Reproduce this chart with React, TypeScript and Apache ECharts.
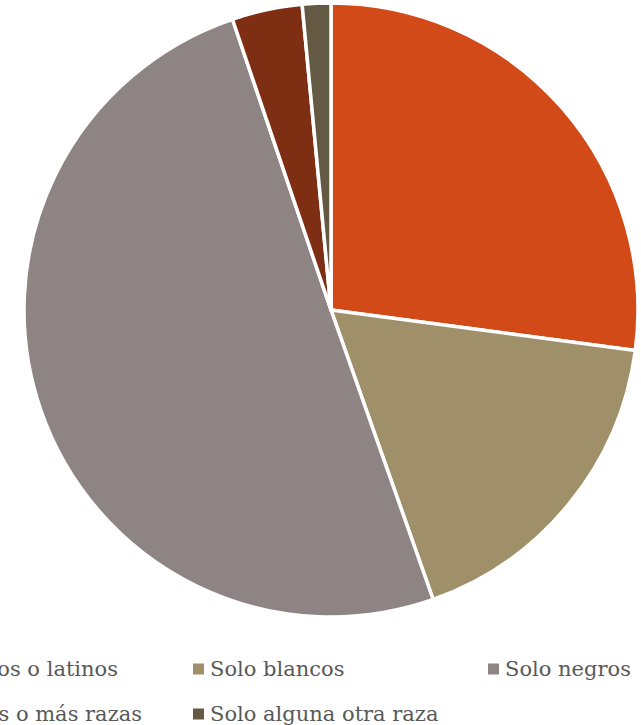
import React, { useEffect, useRef } from "react";
import * as echarts from "echarts";

const categories = [
  "Hispanos o latinos",
  "Solo blancos",
  "Solo negros",
  "Dos o más razas",
  "Solo alguna otra raza",
];
const values = [27.1, 17.5, 50.2, 3.7, 1.5];
const colors = ["#d24a18", "#a0906a", "#8f8484", "#7e2e12", "#645a44"];

export default function App() {
  const ref = useRef<HTMLDivElement>(null);
  useEffect(() => {
    if (!ref.current) return;
    const chart = echarts.init(ref.current, null, { renderer: "svg" });
    const textStyle = {
      fontFamily: "DejaVu Serif",
      fontSize: 21,
      color: "#595959",
      lineHeight: 22,
    };
    const legendBase = {
      orient: "horizontal",
      itemWidth: 13,
      itemHeight: 13,
      itemGap: 0,
      padding: 0,
      icon: "rect",
      selectedMode: false,
      textStyle,
    };
    const legendPos: any[] = [
      { right: 641 - 118, top: 658 },
      { left: 191, top: 658 },
      { left: 486, top: 658 },
      { right: 641 - 142, top: 703 },
      { left: 191, top: 703 },
    ];
    chart.setOption({
      animation: false,
      color: colors,
      legend: categories.map((c, i) => ({
        ...legendBase,
        ...legendPos[i],
        data: [c],
      })),
      series: [
        {
          type: "pie",
          center: [331, 310],
          radius: 307,
          startAngle: 90,
          clockwise: true,
          label: { show: false },
          labelLine: { show: false },
          itemStyle: { borderColor: "#ffffff", borderWidth: 3.5 },
          emphasis: { disabled: true },
          data: categories.map((c, i) => ({
            name: c,
            value: values[i],
            itemStyle: { color: colors[i] },
          })),
        },
      ],
    });
    return () => chart.dispose();
  }, []);
  return (
    <div
      ref={ref}
      style={{ position: "fixed", left: 0, top: 0, width: 641, height: 725, background: "#fff" }}
    />
  );
}
